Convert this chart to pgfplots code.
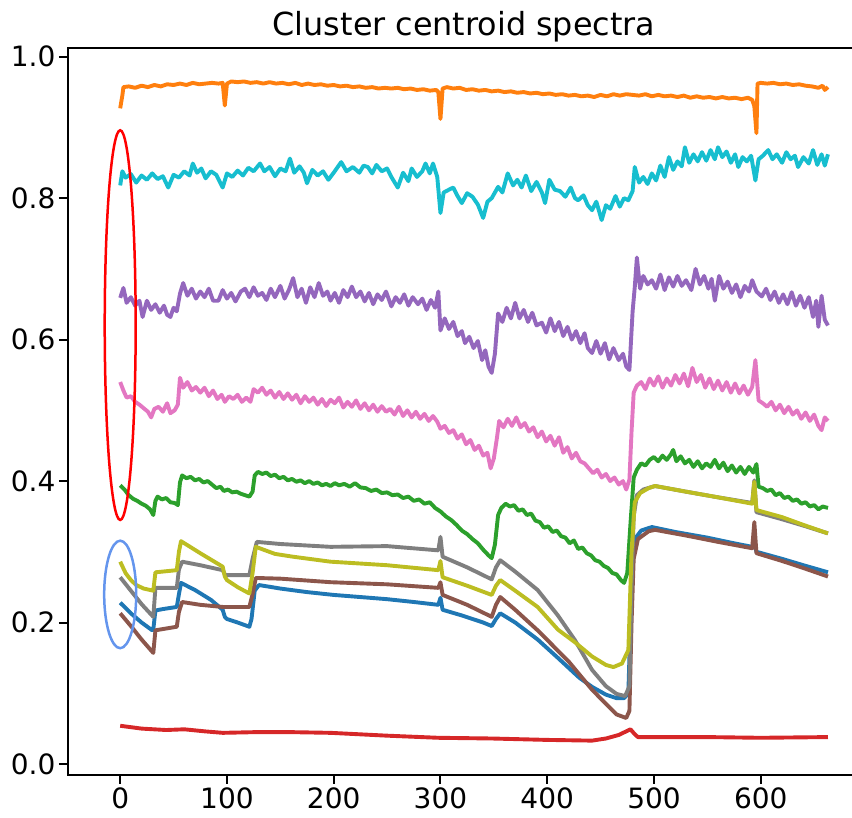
\documentclass[border=0pt]{standalone}
\usepackage{fontspec}
\setmainfont{DejaVu Sans}
\usepackage{pgfplots}
\pgfplotsset{compat=1.18}
\definecolor{tabblue}{HTML}{1F77B4}
\definecolor{taborange}{HTML}{FF7F0E}
\definecolor{tabgreen}{HTML}{2CA02C}
\definecolor{tabred}{HTML}{D62728}
\definecolor{tabpurple}{HTML}{9467BD}
\definecolor{tabbrown}{HTML}{8C564B}
\definecolor{tabpink}{HTML}{E377C2}
\definecolor{tabgray}{HTML}{7F7F7F}
\definecolor{tabolive}{HTML}{BCBD22}
\definecolor{tabcyan}{HTML}{17BECF}
\definecolor{cornflower}{HTML}{6495ED}
\begin{document}
\begin{tikzpicture}
\begin{axis}[
  at={(0pt,0pt)}, anchor=south west,
  scale only axis, width=792pt, height=726.7pt,
  xmin=-48.9, xmax=693, ymin=-0.0156, ymax=1.0119,
  xtick={0,100,200,300,400,500,600},
  ytick={0,0.2,0.4,0.6,0.8,1.0},
  tick pos=left, tick align=outside,
  major tick length=9pt,
  every tick/.style={black, line width=2pt},
  axis line style={black, line width=2pt},
  yticklabel style={/pgf/number format/.cd, fixed, fixed zerofill, precision=1},
  /pgf/number format/assume math mode=true,
  tick label style={font=\fontsize{28}{32}\selectfont},
  xticklabel style={inner sep=0pt, yshift=-4pt},
  title={Cluster centroid spectra},
  title style={font=\fontsize{31.8}{36}\selectfont, yshift=-3pt},
  every axis plot/.append style={line width=3.9pt, line join=round, no markers},
]
% blue
\addplot[tabblue] coordinates {(0,0.228) (10,0.213) (20,0.2) (30,0.189) (31,0.19) (33,0.217) (40,0.219) (53,0.222) (55,0.24) (57,0.256) (70,0.246) (85,0.232) (96,0.218) (98,0.208) (100,0.205) (110,0.2) (121,0.194) (123,0.205) (126,0.245) (130,0.253) (150,0.248) (175,0.243) (200,0.239) (225,0.236) (250,0.233) (275,0.229) (298,0.225) (300,0.235) (302,0.218) (320,0.21) (340,0.2) (348,0.195) (352,0.205) (356,0.213) (370,0.2) (391,0.176) (410,0.15) (430,0.122) (442,0.109) (455,0.098) (465,0.093) (472,0.093) (476,0.1) (478,0.2) (480,0.29) (483,0.32) (488,0.33) (498,0.335) (520,0.328) (550,0.32) (575,0.312) (592,0.307) (594,0.312) (596,0.3) (620,0.29) (640,0.281) (663,0.271)};
% orange
\addplot[taborange] coordinates {(0,0.927) (2,0.945) (3,0.957) (8,0.958) (14,0.956) (20,0.959) (26,0.957) (32,0.96) (38,0.958) (44,0.961) (50,0.96) (56,0.962) (62,0.96) (68,0.963) (74,0.961) (80,0.962) (86,0.963) (92,0.962) (96,0.963) (98,0.931) (100,0.962) (104,0.965) (110,0.964) (116,0.965) (122,0.963) (128,0.964) (134,0.962) (140,0.964) (146,0.962) (152,0.963) (158,0.961) (164,0.963) (170,0.96) (176,0.962) (182,0.96) (188,0.961) (194,0.959) (200,0.96) (206,0.958) (212,0.959) (218,0.957) (224,0.958) (230,0.956) (236,0.957) (242,0.955) (248,0.956) (254,0.955) (260,0.956) (266,0.954) (272,0.955) (278,0.953) (284,0.954) (290,0.952) (296,0.953) (298,0.95) (300,0.912) (302,0.955) (306,0.957) (312,0.955) (318,0.956) (324,0.953) (330,0.954) (336,0.952) (342,0.953) (348,0.951) (354,0.952) (360,0.95) (366,0.951) (372,0.949) (378,0.95) (384,0.948) (390,0.949) (396,0.947) (402,0.948) (408,0.946) (414,0.947) (420,0.945) (426,0.946) (432,0.944) (438,0.945) (444,0.943) (450,0.946) (456,0.944) (462,0.947) (468,0.945) (474,0.947) (480,0.946) (486,0.945) (492,0.947) (498,0.944) (504,0.946) (510,0.944) (516,0.945) (522,0.943) (528,0.945) (534,0.942) (540,0.944) (546,0.942) (552,0.943) (558,0.941) (564,0.943) (570,0.941) (576,0.942) (582,0.94) (588,0.942) (592,0.939) (594,0.93) (596,0.892) (597,0.962) (600,0.963) (606,0.962) (612,0.963) (618,0.961) (624,0.962) (630,0.96) (636,0.961) (642,0.959) (648,0.958) (654,0.956) (658,0.959) (660,0.953) (663,0.957)};
% green
\addplot[tabgreen] coordinates {(0,0.394) (4,0.388) (8,0.38) (12,0.375) (16,0.372) (20,0.368) (24,0.365) (28,0.36) (31,0.352) (33,0.372) (35,0.378) (39,0.374) (43,0.376) (47,0.37) (51,0.369) (54,0.366) (56,0.398) (58,0.408) (62,0.404) (66,0.406) (70,0.401) (74,0.403) (78,0.398) (82,0.4) (86,0.395) (90,0.39) (94,0.392) (97,0.386) (101,0.388) (105,0.384) (109,0.385) (113,0.382) (117,0.38) (121,0.378) (124,0.385) (126,0.408) (129,0.413) (133,0.41) (137,0.412) (141,0.407) (145,0.409) (149,0.404) (153,0.406) (157,0.401) (161,0.403) (165,0.399) (169,0.401) (173,0.397) (177,0.4) (181,0.396) (185,0.398) (189,0.394) (193,0.396) (197,0.393) (201,0.397) (205,0.394) (210,0.396) (215,0.392) (220,0.397) (225,0.391) (230,0.39) (235,0.386) (240,0.388) (245,0.383) (250,0.384) (255,0.38) (260,0.381) (265,0.376) (270,0.378) (275,0.372) (280,0.374) (285,0.368) (290,0.37) (295,0.362) (300,0.357) (305,0.35) (310,0.345) (315,0.338) (320,0.33) (325,0.325) (330,0.318) (335,0.312) (340,0.303) (345,0.295) (348,0.291) (351,0.31) (354,0.352) (357,0.362) (361,0.368) (365,0.364) (369,0.366) (373,0.358) (377,0.36) (381,0.352) (385,0.354) (389,0.344) (393,0.342) (397,0.334) (401,0.336) (405,0.328) (409,0.33) (413,0.322) (417,0.32) (421,0.312) (425,0.316) (429,0.304) (433,0.306) (437,0.298) (441,0.295) (445,0.288) (449,0.286) (453,0.28) (457,0.277) (461,0.27) (465,0.268) (469,0.26) (472,0.256) (475,0.27) (478,0.34) (481,0.405) (484,0.416) (488,0.425) (492,0.422) (496,0.43) (500,0.434) (504,0.428) (508,0.436) (512,0.43) (516,0.438) (518,0.444) (521,0.428) (525,0.435) (529,0.425) (533,0.43) (537,0.42) (541,0.428) (545,0.418) (549,0.425) (553,0.42) (557,0.43) (561,0.418) (565,0.426) (569,0.414) (573,0.422) (577,0.412) (581,0.42) (585,0.41) (589,0.42) (593,0.412) (596,0.424) (598,0.392) (602,0.39) (606,0.386) (610,0.388) (614,0.38) (618,0.383) (622,0.376) (626,0.378) (630,0.372) (634,0.374) (638,0.368) (642,0.37) (646,0.364) (650,0.366) (654,0.36) (658,0.364) (663,0.362)};
% red
\addplot[tabred] coordinates {(0,0.054) (20,0.05) (43,0.048) (60,0.049) (80,0.046) (96,0.044) (127,0.045) (160,0.045) (197,0.044) (250,0.04) (298,0.037) (348,0.036) (400,0.034) (442,0.033) (455,0.036) (467,0.041) (478,0.049) (482,0.042) (485,0.038) (550,0.038) (600,0.037) (663,0.038)};
% purple
\addplot[tabpurple] coordinates {(0,0.659) (3,0.673) (6,0.652) (10,0.66) (14,0.648) (18,0.655) (21,0.632) (25,0.655) (29,0.642) (33,0.65) (37,0.638) (41,0.648) (44,0.635) (47,0.632) (50,0.645) (53,0.64) (56,0.665) (59,0.68) (63,0.662) (67,0.672) (71,0.658) (75,0.668) (79,0.66) (83,0.672) (87,0.655) (92,0.655) (96,0.67) (100,0.658) (104,0.666) (108,0.654) (113,0.668) (117,0.672) (121,0.66) (125,0.674) (129,0.662) (133,0.666) (137,0.656) (141,0.672) (145,0.66) (150,0.676) (154,0.658) (158,0.67) (162,0.687) (166,0.66) (170,0.672) (174,0.652) (178,0.674) (182,0.66) (186,0.68) (190,0.662) (194,0.668) (197,0.655) (201,0.666) (205,0.652) (209,0.67) (213,0.66) (217,0.675) (221,0.66) (225,0.668) (229,0.654) (233,0.666) (237,0.65) (241,0.664) (245,0.656) (249,0.668) (254,0.647) (258,0.66) (262,0.652) (266,0.664) (270,0.648) (274,0.66) (279,0.65) (283,0.658) (287,0.642) (291,0.656) (295,0.645) (298,0.668) (300,0.613) (304,0.63) (308,0.615) (312,0.625) (316,0.605) (320,0.612) (323,0.595) (327,0.604) (331,0.588) (335,0.598) (339,0.571) (342,0.585) (345,0.562) (348,0.553) (351,0.58) (354,0.637) (358,0.625) (362,0.645) (366,0.63) (370,0.652) (374,0.63) (378,0.642) (382,0.625) (386,0.638) (390,0.62) (395,0.624) (399,0.61) (403,0.63) (407,0.612) (411,0.625) (415,0.605) (419,0.618) (423,0.6) (427,0.612) (431,0.595) (435,0.609) (438,0.588) (442,0.581) (446,0.598) (450,0.58) (454,0.595) (458,0.572) (462,0.588) (467,0.571) (471,0.58) (474,0.562) (477,0.557) (480,0.64) (482,0.674) (484,0.716) (487,0.672) (490,0.69) (494,0.678) (498,0.684) (502,0.672) (506,0.692) (510,0.67) (514,0.688) (518,0.675) (522,0.69) (526,0.676) (530,0.684) (535,0.67) (539,0.7) (543,0.678) (547,0.69) (551,0.672) (554,0.686) (557,0.655) (561,0.69) (565,0.672) (569,0.682) (573,0.666) (577,0.678) (581,0.66) (585,0.676) (589,0.668) (592,0.684) (596,0.668) (601,0.661) (605,0.672) (609,0.656) (613,0.668) (617,0.652) (621,0.664) (625,0.65) (629,0.667) (633,0.648) (637,0.662) (641,0.645) (645,0.66) (649,0.632) (652,0.655) (654,0.618) (657,0.662) (660,0.628) (663,0.62)};
% brown
\addplot[tabbrown] coordinates {(0,0.213) (10,0.195) (20,0.176) (31,0.157) (33,0.189) (53,0.194) (55,0.215) (58,0.229) (75,0.225) (96,0.222) (110,0.222) (121,0.222) (124,0.24) (127,0.263) (150,0.262) (197,0.257) (250,0.254) (298,0.249) (300,0.257) (302,0.239) (325,0.225) (348,0.208) (352,0.225) (356,0.236) (370,0.218) (391,0.189) (420,0.145) (442,0.105) (455,0.085) (465,0.07) (474,0.065) (477,0.075) (479,0.2) (481,0.29) (485,0.318) (495,0.329) (501,0.331) (530,0.323) (560,0.314) (592,0.305) (594,0.342) (596,0.298) (620,0.287) (640,0.277) (663,0.265)};
% pink
\addplot[tabpink] coordinates {(0,0.54) (3,0.528) (6,0.518) (10,0.52) (14,0.512) (18,0.508) (22,0.503) (26,0.498) (29,0.49) (32,0.502) (36,0.505) (40,0.498) (44,0.51) (47,0.496) (51,0.5) (54,0.508) (56,0.546) (59,0.532) (63,0.54) (67,0.528) (71,0.533) (75,0.525) (79,0.532) (83,0.52) (87,0.528) (91,0.516) (95,0.522) (98,0.512) (102,0.52) (106,0.516) (110,0.522) (114,0.512) (118,0.518) (122,0.512) (125,0.53) (129,0.525) (133,0.532) (137,0.522) (141,0.528) (145,0.518) (149,0.526) (153,0.516) (157,0.524) (161,0.515) (165,0.522) (169,0.51) (173,0.52) (177,0.512) (181,0.518) (185,0.508) (189,0.516) (193,0.506) (197,0.515) (201,0.51) (205,0.518) (209,0.504) (213,0.512) (217,0.505) (221,0.514) (225,0.502) (229,0.51) (233,0.5) (237,0.508) (241,0.498) (245,0.506) (249,0.498) (253,0.502) (257,0.494) (261,0.505) (265,0.492) (269,0.5) (273,0.49) (277,0.498) (281,0.488) (285,0.495) (289,0.485) (293,0.492) (297,0.484) (300,0.474) (304,0.478) (308,0.468) (312,0.472) (316,0.46) (320,0.466) (324,0.452) (328,0.458) (332,0.444) (336,0.45) (340,0.436) (344,0.44) (347,0.418) (350,0.432) (353,0.462) (355,0.485) (359,0.476) (363,0.488) (367,0.478) (371,0.49) (375,0.476) (379,0.482) (383,0.47) (387,0.476) (391,0.462) (395,0.47) (399,0.456) (403,0.464) (407,0.45) (411,0.462) (415,0.44) (419,0.448) (423,0.432) (427,0.44) (431,0.428) (435,0.425) (439,0.418) (443,0.411) (447,0.416) (451,0.405) (455,0.41) (459,0.4) (463,0.405) (467,0.395) (471,0.4) (474,0.388) (477,0.402) (479,0.47) (481,0.525) (484,0.535) (488,0.54) (492,0.53) (496,0.545) (500,0.535) (504,0.548) (508,0.532) (512,0.545) (516,0.535) (520,0.55) (524,0.538) (528,0.552) (532,0.534) (536,0.56) (540,0.54) (544,0.55) (548,0.532) (552,0.545) (556,0.53) (560,0.542) (564,0.528) (568,0.54) (572,0.525) (576,0.538) (580,0.524) (584,0.535) (588,0.522) (592,0.533) (595,0.571) (598,0.514) (602,0.51) (606,0.505) (610,0.512) (614,0.5) (618,0.508) (622,0.496) (626,0.505) (630,0.494) (634,0.5) (638,0.488) (642,0.497) (646,0.485) (650,0.494) (654,0.478) (657,0.472) (660,0.49) (663,0.485)};
% gray
\addplot[tabgray] coordinates {(0,0.264) (10,0.245) (20,0.226) (31,0.208) (33,0.249) (53,0.249) (55,0.275) (58,0.286) (75,0.281) (96,0.274) (98,0.268) (100,0.267) (121,0.267) (124,0.29) (128,0.314) (150,0.311) (197,0.307) (250,0.308) (298,0.302) (300,0.321) (302,0.293) (325,0.278) (348,0.261) (352,0.278) (356,0.288) (370,0.272) (391,0.246) (410,0.21) (426,0.175) (442,0.133) (455,0.11) (465,0.099) (473,0.096) (477,0.11) (479,0.25) (481,0.35) (484,0.38) (490,0.388) (501,0.393) (530,0.385) (560,0.377) (592,0.369) (594,0.401) (596,0.356) (620,0.346) (640,0.337) (663,0.326)};
% olive
\addplot[tabolive] coordinates {(0,0.286) (5,0.27) (10,0.26) (15,0.253) (22,0.248) (31,0.245) (33,0.271) (53,0.274) (55,0.3) (57,0.315) (75,0.298) (96,0.279) (98,0.265) (100,0.26) (110,0.25) (121,0.241) (124,0.27) (127,0.307) (145,0.297) (162,0.293) (197,0.286) (250,0.281) (298,0.274) (300,0.287) (302,0.264) (325,0.252) (348,0.239) (352,0.252) (356,0.26) (370,0.245) (391,0.222) (410,0.19) (426,0.172) (442,0.152) (455,0.14) (462,0.137) (470,0.142) (476,0.161) (479,0.3) (482,0.37) (487,0.383) (495,0.39) (501,0.393) (530,0.385) (560,0.377) (592,0.368) (594,0.399) (596,0.359) (620,0.349) (640,0.338) (663,0.326)};
% cyan
\addplot[tabcyan] coordinates {(0,0.818) (2,0.838) (5,0.829) (10,0.834) (15,0.822) (20,0.832) (25,0.826) (30,0.835) (35,0.827) (40,0.831) (45,0.815) (50,0.833) (55,0.829) (60,0.838) (65,0.832) (68,0.849) (72,0.836) (76,0.842) (80,0.828) (85,0.838) (90,0.833) (96,0.815) (100,0.835) (105,0.83) (110,0.839) (115,0.832) (120,0.843) (125,0.838) (131,0.849) (135,0.838) (140,0.844) (145,0.831) (150,0.842) (155,0.838) (159,0.856) (163,0.836) (168,0.845) (172,0.836) (175,0.821) (180,0.84) (185,0.832) (190,0.838) (195,0.826) (200,0.836) (207,0.851) (212,0.838) (218,0.844) (224,0.836) (228,0.846) (232,0.844) (236,0.835) (240,0.847) (245,0.838) (250,0.842) (254,0.83) (260,0.815) (265,0.836) (270,0.824) (273,0.842) (278,0.83) (283,0.838) (286,0.849) (290,0.835) (293,0.849) (297,0.83) (300,0.779) (303,0.808) (308,0.812) (312,0.815) (316,0.803) (320,0.793) (325,0.807) (330,0.802) (335,0.791) (340,0.772) (344,0.795) (348,0.8) (354,0.816) (358,0.808) (363,0.835) (368,0.818) (372,0.826) (376,0.815) (380,0.832) (385,0.81) (390,0.823) (395,0.808) (398,0.793) (402,0.826) (407,0.812) (412,0.81) (417,0.802) (422,0.815) (426,0.8) (429,0.797) (434,0.804) (438,0.79) (442,0.783) (446,0.795) (451,0.769) (455,0.79) (459,0.785) (464,0.803) (468,0.788) (472,0.8) (476,0.797) (480,0.81) (482,0.844) (486,0.822) (490,0.83) (494,0.82) (498,0.835) (502,0.825) (506,0.846) (510,0.83) (514,0.858) (518,0.84) (522,0.852) (526,0.845) (529,0.872) (533,0.85) (537,0.862) (541,0.852) (545,0.865) (549,0.853) (553,0.868) (557,0.855) (560,0.872) (564,0.858) (568,0.866) (572,0.85) (576,0.862) (579,0.844) (583,0.858) (587,0.852) (591,0.86) (595,0.825) (598,0.855) (602,0.86) (607,0.868) (611,0.855) (615,0.862) (620,0.85) (624,0.865) (628,0.855) (632,0.86) (635,0.844) (640,0.858) (645,0.849) (649,0.868) (653,0.847) (657,0.862) (660,0.846) (663,0.862)};
% ellipses
\draw[red, line width=2.5pt] (axis cs:0,0.6205) ellipse [x radius=14.5, y radius=0.2755];
\draw[cornflower, line width=2.5pt] (axis cs:0,0.2397) ellipse [x radius=15, y radius=0.076];
\end{axis}
\pgfresetboundingbox
\path[use as bounding box] (-68pt,-43pt) rectangle (784pt,775pt);
\end{tikzpicture}
\end{document}
